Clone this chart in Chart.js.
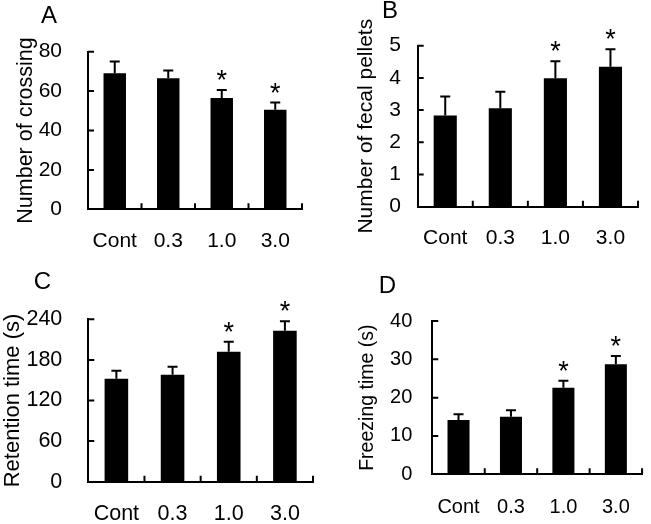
<!DOCTYPE html>
<html><head><meta charset="utf-8">
<script src="https://cdn.jsdelivr.net/npm/chart.js@4/dist/chart.umd.min.js"></script>
<style>
html,body{margin:0;padding:0;background:#fff;width:651px;height:524px;overflow:hidden}
canvas{position:absolute;display:block}
</style></head><body>
<canvas id="cA" width="325" height="260" style="left:0;top:0"></canvas>
<canvas id="cB" width="326" height="260" style="left:325px;top:0"></canvas>
<canvas id="cC" width="325" height="264" style="left:0;top:260px"></canvas>
<canvas id="cD" width="326" height="264" style="left:325px;top:260px"></canvas>
<script>
// ---- data ----
const categories = ['Cont', '0.3', '1.0', '3.0'];

const crossingMean = [69, 66.5, 56.5, 50.5];
const crossingSem  = [6, 4, 4, 3.7];
const crossingSig  = [false, false, true, true];
const crossingTicks = [0, 20, 40, 60, 80];

const pelletsMean = [2.83, 3.06, 3.99, 4.35];
const pelletsSem  = [0.59, 0.51, 0.53, 0.54];
const pelletsSig  = [false, false, true, true];
const pelletsTicks = [0, 1, 2, 3, 4, 5];

const retentionMean = [152, 158, 192, 223];
const retentionSem  = [12, 12, 15, 14];
const retentionSig  = [false, false, true, true];
const retentionTicks = [0, 60, 120, 180, 240];

const freezingMean = [14.2, 15.0, 22.6, 28.7];
const freezingSem  = [1.5, 1.7, 1.8, 2.2];
const freezingSig  = [false, false, true, true];
const freezingTicks = [0, 10, 20, 30, 40];

// ---- rendering ----
const FAM = '"Liberation Sans", Arial, sans-serif';
Chart.defaults.font.family = FAM;
Chart.defaults.color = '#000';

const decor = {
  id: 'decor',
  afterDatasetsDraw(chart, args, o) {
    const ctx = chart.ctx;
    const meta = chart.getDatasetMeta(0);
    const ys = chart.scales.y, xs = chart.scales.x;
    const vals = chart.data.datasets[0].data;
    const area = chart.chartArea;
    ctx.save();
    ctx.strokeStyle = '#000'; ctx.fillStyle = '#000'; ctx.lineWidth = 2;
    ctx.beginPath();
    meta.data.forEach((bar, i) => {
      const top = ys.getPixelForValue(vals[i] + o.errors[i]);
      ctx.moveTo(bar.x, bar.y); ctx.lineTo(bar.x, top);
      ctx.moveTo(bar.x - 5, top); ctx.lineTo(bar.x + 5, top);
    });
    // inward y ticks
    ys.ticks.forEach(t => {
      if (t.value === ys.min) return;
      const y = ys.getPixelForValue(t.value);
      ctx.moveTo(area.left, y); ctx.lineTo(area.left + 6, y);
    });
    // upward x ticks at category boundaries
    const n = chart.data.labels.length;
    for (let k = 1; k <= n; k++) {
      const x = k < n ? (xs.getPixelForValue(k - 1) + xs.getPixelForValue(k)) / 2 : area.right;
      ctx.moveTo(x, area.bottom); ctx.lineTo(x, area.bottom - 6);
    }
    ctx.stroke();
    // significance asterisks
    ctx.font = '27px ' + FAM; ctx.textAlign = 'center'; ctx.textBaseline = 'alphabetic';
    meta.data.forEach((bar, i) => {
      if (!o.sig[i]) return;
      const top = ys.getPixelForValue(vals[i] + o.errors[i]);
      ctx.fillText('*', bar.x, top - 1);
    });
    // panel letter
    ctx.font = '24px ' + FAM; ctx.textBaseline = 'middle';
    ctx.fillText(o.letter, o.lx, o.ly);
    ctx.restore();
  }
};

function panel(id, letter, title, means, errs, sig, ticks, g) {
  new Chart(document.getElementById(id), {
    type: 'bar',
    data: { labels: categories, datasets: [{ data: means, backgroundColor: '#000', borderWidth: 0,
      barPercentage: 0.42, categoryPercentage: 1 }] },
    options: {
      responsive: false, animation: false,
      layout: { padding: { left: 0, top: g.top, right: g.right, bottom: 0 } },
      plugins: { legend: { display: false }, tooltip: { enabled: false },
        decor: { errors: errs, sig: sig, letter: letter, lx: g.lx, ly: g.ly } },
      scales: {
        x: {
          grid: { display: false, drawTicks: false },
          border: { display: true, color: '#000', width: 2 },
          ticks: { padding: g.xpad, font: { size: g.fsize }, color: '#000', maxRotation: 0 },
          afterFit(s) { s.height = g.xh; }
        },
        y: {
          min: ticks[0], max: ticks[ticks.length - 1],
          afterBuildTicks(s) { s.ticks = ticks.map(v => ({ value: v })); },
          grid: { display: false, drawTicks: false },
          border: { display: true, color: '#000', width: 2 },
          ticks: { padding: g.ypad, font: { size: g.fsize }, color: '#000' },
          title: { display: true, text: title, color: '#000',
            font: { size: g.tsize }, padding: { top: g.tpad, bottom: 0 } },
          afterFit(s) { s.width = g.yw; }
        }
      }
    },
    plugins: [decor]
  });
}

panel('cA', 'A', 'Number of crossing', crossingMean, crossingSem, crossingSig, crossingTicks,
  { top: 51.7, right: 23, xh: 50.7, yw: 88, xpad: 19.5, ypad: 26, fsize: 21, tsize: 21.5, tpad: 13.4, lx: 49, ly: 16 });
panel('cB', 'B', 'Number of fecal pellets', pelletsMean, pelletsSem, pelletsSig, pelletsTicks,
  { top: 45.7, right: 13, xh: 53.3, yw: 92.7, xpad: 19, ypad: 16.7, fsize: 21, tsize: 21, tpad: 28.4, lx: 65, ly: 11 });
panel('cC', 'C', 'Retention time (s)', retentionMean, retentionSem, retentionSig, retentionTicks,
  { top: 59.3, right: 12, xh: 42.3, yw: 88.3, xpad: 19, ypad: 26, fsize: 21.5, tsize: 22, tpad: 0, lx: 42.5, ly: 22 });
panel('cD', 'D', 'Freezing time (s)', freezingMean, freezingSem, freezingSig, freezingTicks,
  { top: 61, right: 2, xh: 49.7, yw: 107.3, xpad: 21, ypad: 20, fsize: 20, tsize: 19.5, tpad: 31.3, lx: 62.5, ly: 26.7 });
</script>
</body></html>
